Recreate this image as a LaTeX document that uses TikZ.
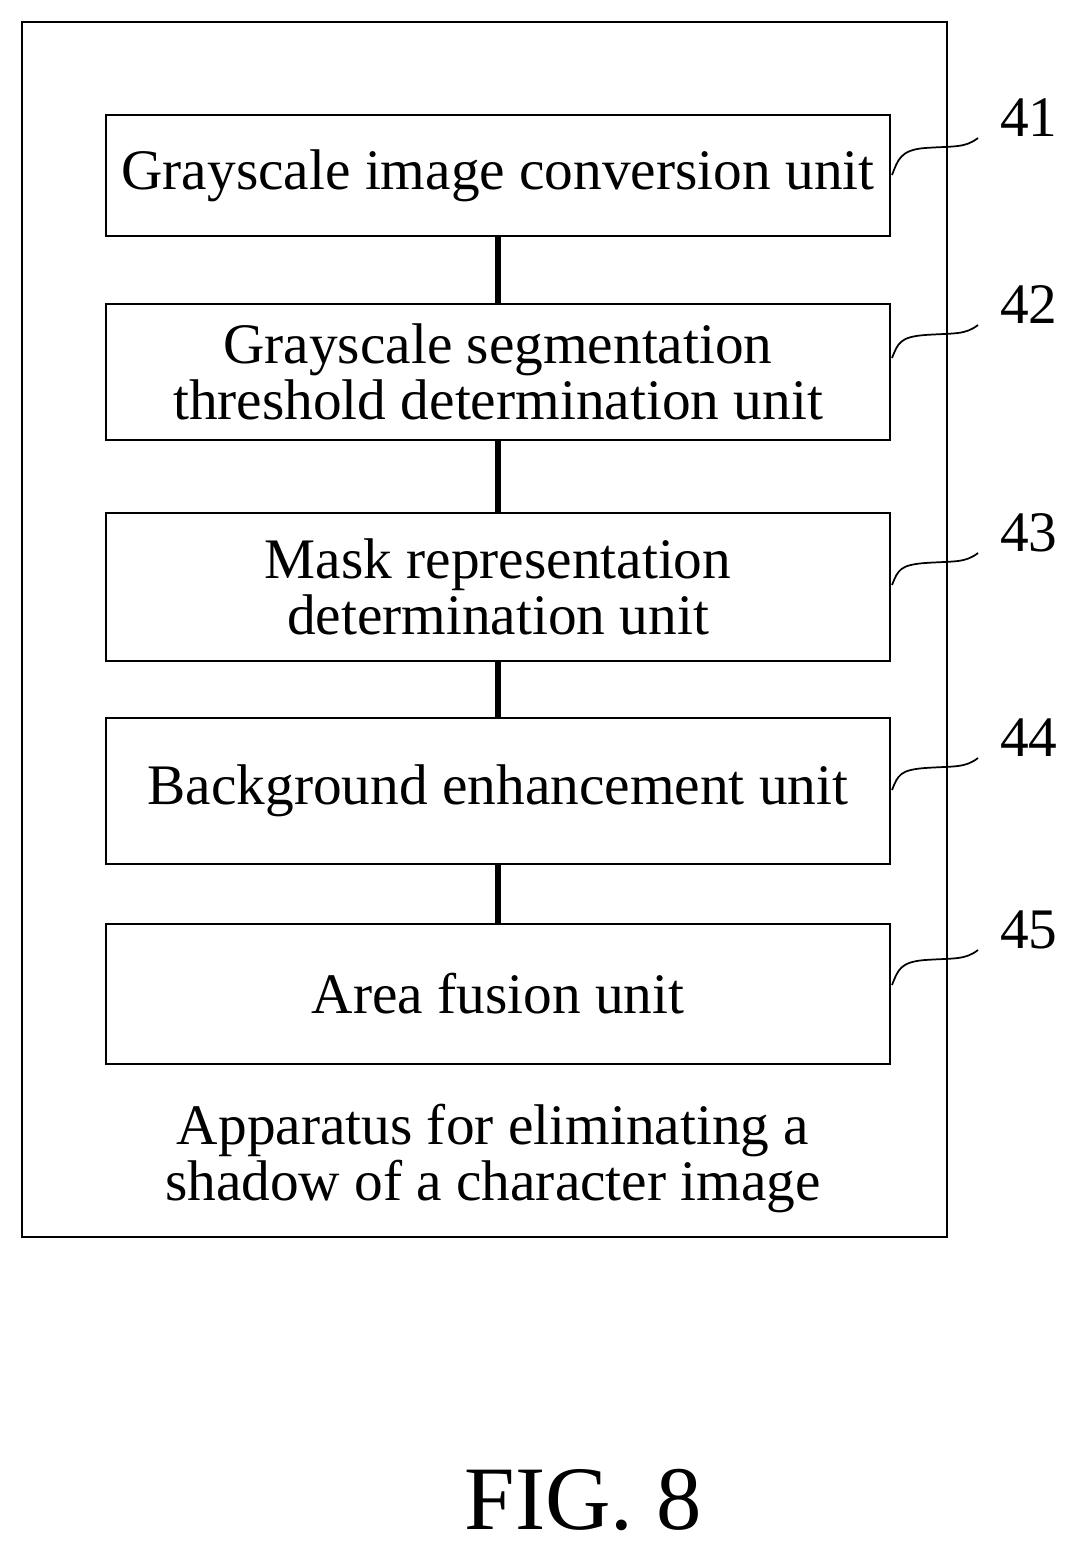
\documentclass[tikz,border=0pt]{standalone}
\usepackage{fontspec}
\setmainfont{Liberation Serif}
\begin{document}
\begin{tikzpicture}[x=0.75pt,y=-0.75pt,
 box/.style={draw,line width=1.8pt,minimum width=588pt,align=center,font=\fontsize{43}{42}\selectfont,inner sep=0pt},
 lab/.style={font=\fontsize{43}{42}\selectfont,anchor=west,inner sep=0pt},
 lead/.style={line width=1.3pt},
 conn/.style={line width=3.8pt}]
\useasboundingbox (0,0) rectangle (1081,1548);
\draw[line width=1.8pt] (22,22) rectangle (947,1237);
\node[box,minimum height=90.75pt] (b1) at (498,175.5) {Grayscale image conversion unit};
\node[box,minimum height=102pt] (b2) at (498,372) {Grayscale segmentation\\threshold determination unit};
\node[box,minimum height=111pt] (b3) at (498,587) {Mask representation\\determination unit};
\node[box,minimum height=109.5pt] (b4) at (498,791) {Background enhancement unit};
\node[box,minimum height=105pt] (b5) at (498,994) {Area fusion unit};
\draw[conn] (b1.south) -- (b2.north);
\draw[conn] (b2.south) -- (b3.north);
\draw[conn] (b3.south) -- (b4.north);
\draw[conn] (b4.south) -- (b5.north);
\node[font=\fontsize{43}{42}\selectfont,align=center,inner sep=0pt] (cap) at (493,1158) {Apparatus for eliminating a\\shadow of a character image};
\node[font=\fontsize{68}{70}\selectfont,inner sep=0pt] (fig) at (583,1500) {FIG. 8};
\foreach \i/\by/\ly in {1/175/118,2/358/305,3/585/533,4/790/738,5/985/930}{
 \node[lab] (l\i) at (1000,\ly) {4\i};
 \coordinate (s\i) at (892,\by);
 \coordinate (e\i) at (978,\ly+20);
 \draw[lead] (s\i) .. controls (898,\by-15) and (900,\ly+32) .. (925,\ly+30)
   .. controls (955,\ly+28) and (965,\ly+30) .. (e\i);
}
\end{tikzpicture}
\end{document}
